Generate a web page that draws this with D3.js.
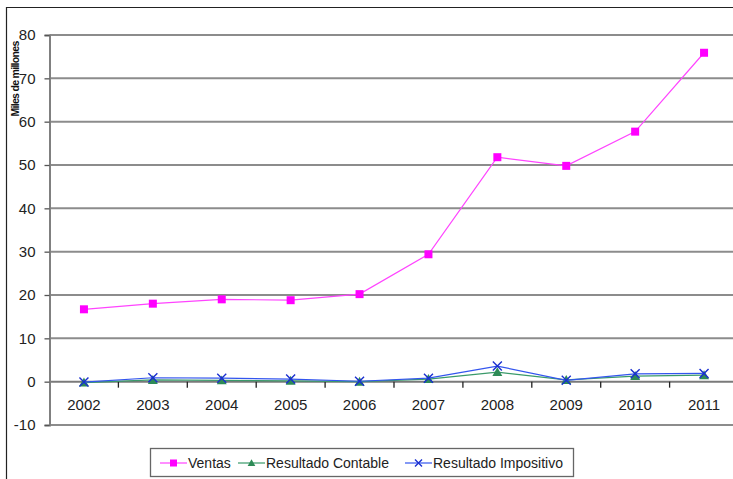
<!DOCTYPE html>
<html>
<head>
<meta charset="utf-8">
<script src="https://cdn.jsdelivr.net/npm/d3@7"></script>
<style>
  html, body { margin: 0; padding: 0; background: #fff; }
  svg { display: block; font-family: "Liberation Sans", Arial, sans-serif; }
</style>
</head>
<body>
<svg id="chart" width="733" height="479"></svg>
<script>
// Annual figures, in miles de millones
const years = ["2002", "2003", "2004", "2005", "2006", "2007", "2008", "2009", "2010", "2011"];
const ventas = [16.7, 18.0, 19.0, 18.8, 20.2, 29.4, 51.8, 49.8, 57.7, 75.9];
const resultadoContable = [-0.2, 0.4, 0.3, 0.2, 0.0, 0.6, 2.2, 0.4, 1.3, 1.5];
const resultadoImpositivo = [-0.1, 0.9, 0.8, 0.6, 0.1, 0.8, 3.6, 0.3, 1.8, 1.9];
const yTicks = [-10, 0, 10, 20, 30, 40, 50, 60, 70, 80];
const seriesNames = ["Ventas", "Resultado Contable", "Resultado Impositivo"];

const series = [
  { name: seriesNames[0], values: ventas, color: "#ff00ff", lineColor: "#ff44ff", marker: "square" },
  { name: seriesNames[1], values: resultadoContable, color: "#2e8b57", marker: "triangle", lineColor: "#3a9a6a" },
  { name: seriesNames[2], values: resultadoImpositivo, color: "#1a2fd0", marker: "x", lineColor: "#3355ee" }
];

const svg = d3.select("#chart");

// Outer frame
svg.append("line").attr("x1", 6.5).attr("x2", 6.5).attr("y1", 7).attr("y2", 479)
  .attr("stroke", "#222").attr("stroke-width", 1.2);
svg.append("line").attr("x1", 6).attr("x2", 733).attr("y1", 7.5).attr("y2", 7.5)
  .attr("stroke", "#222").attr("stroke-width", 1.2);

const plotLeft = 49.5, bandW = 68.9;
const x = d3.scaleBand().domain(years).range([plotLeft, plotLeft + bandW * years.length]);
const y = d3.scaleLinear().domain([-10, 80]).range([425, 35]);

// Horizontal gridlines
svg.append("g").selectAll("line").data(yTicks).join("line")
  .attr("x1", plotLeft).attr("x2", 733)
  .attr("y1", d => y(d)).attr("y2", d => y(d))
  .attr("stroke", d => d === 0 ? "#7a7a7a" : "#8c8c8c")
  .attr("stroke-width", 2);

// Y axis
const yAxis = d3.axisLeft(y).tickValues(yTicks).tickFormat(d => String(d)).tickSize(5).tickPadding(9);
const gy = svg.append("g").attr("transform", `translate(${plotLeft},0)`).call(yAxis);
gy.select(".domain").attr("stroke", "#808080").attr("stroke-width", 2);
gy.selectAll(".tick line").attr("stroke", "#555").attr("stroke-width", 1.3);
gy.selectAll(".tick text").attr("font-size", 15).attr("fill", "#222")
  .attr("font-family", "'Liberation Sans', Arial, sans-serif");

// X axis on the zero line; ticks at category boundaries
const gx = svg.append("g").attr("transform", `translate(0,${y(0)})`);
const bounds = years.slice(1).map(d => x(d));
gx.selectAll("line.tk").data(bounds).join("line").attr("class", "tk")
  .attr("x1", d => d).attr("x2", d => d).attr("y1", 0).attr("y2", 6)
  .attr("stroke", "#222").attr("stroke-width", 1.3);
gx.selectAll("text").data(years).join("text")
  .attr("x", d => x(d) + x.bandwidth() / 2).attr("y", 28)
  .attr("text-anchor", "middle").attr("font-size", 15).attr("fill", "#222")
  .text(d => d);

// Y axis title
svg.append("text")
  .attr("transform", "translate(19,79) rotate(-90)")
  .attr("text-anchor", "middle").attr("font-size", 10.5).attr("font-weight", "bold")
  .attr("letter-spacing", -0.7).attr("fill", "#111")
  .text("Miles de millones");

// Markers
function drawMarker(g, type, color, size) {
  if (type === "square") {
    g.append("rect").attr("x", -size / 2).attr("y", -size / 2)
      .attr("width", size).attr("height", size).attr("fill", color);
  } else if (type === "triangle") {
    const s = size * 0.55;
    g.append("path").attr("d", `M0,${-s}L${s},${s * 0.8}L${-s},${s * 0.8}Z`).attr("fill", color);
  } else {
    const s = size * 0.5;
    g.append("path").attr("d", `M${-s},${-s}L${s},${s}M${s},${-s}L${-s},${s}`)
      .attr("stroke", color).attr("stroke-width", 1.4).attr("fill", "none");
  }
}

const cx = d => x(d) + x.bandwidth() / 2;
const line = d3.line().x((d, i) => cx(years[i])).y(d => y(d));

series.forEach(s => {
  svg.append("path").datum(s.values).attr("d", line)
    .attr("fill", "none").attr("stroke", s.lineColor || s.color).attr("stroke-width", 1.2);
  s.values.forEach((v, i) => {
    const g = svg.append("g").attr("transform", `translate(${cx(years[i])},${y(v)})`);
    drawMarker(g, s.marker, s.color, s.marker === "square" ? 8 : 9);
  });
});

// Legend
const legend = svg.append("g");
legend.append("rect").attr("x", 150.5).attr("y", 448.5).attr("width", 423).attr("height", 28)
  .attr("fill", "#fff").attr("stroke", "#666").attr("stroke-width", 1.3);
const legendX = [160, 238, 405];
series.forEach((s, i) => {
  const g = legend.append("g").attr("transform", `translate(${legendX[i]},463)`);
  g.append("line").attr("x1", 0).attr("x2", 27).attr("y1", 0).attr("y2", 0)
    .attr("stroke", s.lineColor || s.color).attr("stroke-width", 1.2);
  const m = g.append("g").attr("transform", "translate(13.5,0)");
  drawMarker(m, s.marker, s.color, 7);
  g.append("text").attr("x", 28).attr("y", 5).attr("font-size", 14).attr("fill", "#222").text(s.name);
});
</script>
</body>
</html>
